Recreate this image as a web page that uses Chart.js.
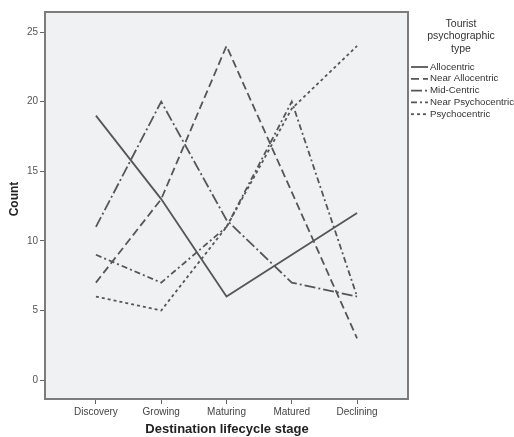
<!DOCTYPE html>
<html>
<head>
<meta charset="utf-8">
<script src="https://cdn.jsdelivr.net/npm/chart.js@4.4.0/dist/chart.umd.min.js"></script>
<style>
html,body{margin:0;padding:0;background:#fff;}
#wrap{width:514px;height:437px;position:relative;}
</style>
</head>
<body>
<div id="wrap"><canvas id="c" width="514" height="437"></canvas></div>
<script>
const stages = ["Discovery", "Growing", "Maturing", "Matured", "Declining"];
const seriesNames = ["Allocentric", "Near Allocentric", "Mid-Centric", "Near Psychocentric", "Psychocentric"];
const allocentric = [19, 13, 6, 9, 12];
const nearAllocentric = [7, 13, 24, 13.5, 3];
const midCentric = [11, 20, 11.5, 7, 6];
const nearPsychocentric = [9, 7, 11, 20, 6];
const psychocentric = [6, 5, 11, 19.5, 24];
const yTicks = [0, 5, 10, 15, 20, 25];
const legendTitle = ["Tourist", "psychographic", "type"];
const xTitle = "Destination lifecycle stage";
const yTitle = "Count";

const seriesValues = [allocentric, nearAllocentric, midCentric, nearPsychocentric, psychocentric];
const dashes = [[], [8, 4], [11, 3, 2, 3], [6, 3, 2, 3], [3, 3]];
const lineColor = "#565656";
const FONT = "Arial, 'Liberation Sans', sans-serif";

const datasets = seriesValues.map((vals, k) => ({
  label: seriesNames[k],
  data: vals.map((v, i) => ({x: i, y: v})),
  borderColor: lineColor,
  borderWidth: 1.8,
  borderDash: dashes[k],
  pointRadius: 0,
  fill: false,
  tension: 0
}));

const bgPlugin = {
  id: 'bg',
  beforeDraw(chart) {
    const {ctx, chartArea: a} = chart;
    ctx.save();
    ctx.fillStyle = "#f0f1f2";
    ctx.fillRect(a.left, a.top, a.right - a.left, a.bottom - a.top);
    ctx.restore();
  },
  afterDraw(chart) {
    const {ctx, chartArea: a} = chart;
    ctx.save();
    ctx.strokeStyle = "#7c7c7c";
    ctx.lineWidth = 2;
    ctx.strokeRect(a.left, a.top, a.right - a.left, a.bottom - a.top);
    // axis titles
    ctx.fillStyle = "#222";
    ctx.textAlign = "center";
    ctx.textBaseline = "middle";
    ctx.font = "bold 13px " + FONT;
    ctx.fillText(xTitle, 227, 429);
    ctx.save();
    ctx.translate(15, 199);
    ctx.rotate(-Math.PI / 2);
    ctx.font = "bold 12px " + FONT;
    ctx.fillText(yTitle, 0, 0);
    ctx.restore();
    // legend
    ctx.fillStyle = "#333";
    ctx.font = "10.5px " + FONT;
    legendTitle.forEach((t, i) => ctx.fillText(t, 461, 24 + i * 12.5));
    ctx.font = "9.7px " + FONT;
    ctx.textAlign = "left";
    chart.data.datasets.forEach((ds, i) => {
      const y = 67 + i * 11.8;
      ctx.strokeStyle = lineColor;
      ctx.lineWidth = 1.8;
      ctx.setLineDash(ds.borderDash);
      ctx.beginPath();
      ctx.moveTo(411, y);
      ctx.lineTo(428, y);
      ctx.stroke();
      ctx.setLineDash([]);
      ctx.fillText(ds.label, 430, y);
    });
    ctx.restore();
  }
};

new Chart(document.getElementById('c'), {
  type: 'line',
  data: {datasets},
  options: {
    responsive: false,
    animation: false,
    devicePixelRatio: 1,
    layout: {padding: {top: 12, right: 106, left: 0, bottom: 0}},
    plugins: {legend: {display: false}, tooltip: {enabled: false}},
    scales: {
      x: {
        type: 'linear',
        min: -0.78, max: 4.78,
        afterBuildTicks(s) { s.ticks = stages.map((_, i) => ({value: i})); },
        afterFit(s) { s.height = 38; },
        ticks: {
          includeBounds: false, autoSkip: false, maxRotation: 0,
          color: "#444", font: {size: 10, family: FONT}, padding: 2,
          callback: (v) => stages[v]
        },
        grid: {display: true, drawOnChartArea: false, drawTicks: true, tickLength: 5, color: "#666", tickWidth: 1},
        border: {display: false},
        title: {display: false}
      },
      y: {
        type: 'linear',
        min: -1.36, max: 26.44,
        afterBuildTicks(s) { s.ticks = yTicks.map(v => ({value: v})); },
        afterFit(s) { s.width = 45; },
        ticks: {includeBounds: false, color: "#555", font: {size: 10, family: FONT}, padding: 2},
        grid: {display: true, drawOnChartArea: false, drawTicks: true, tickLength: 5, color: "#666", tickWidth: 1},
        border: {display: false},
        title: {display: false}
      }
    }
  },
  plugins: [bgPlugin]
});
</script>
</body>
</html>
